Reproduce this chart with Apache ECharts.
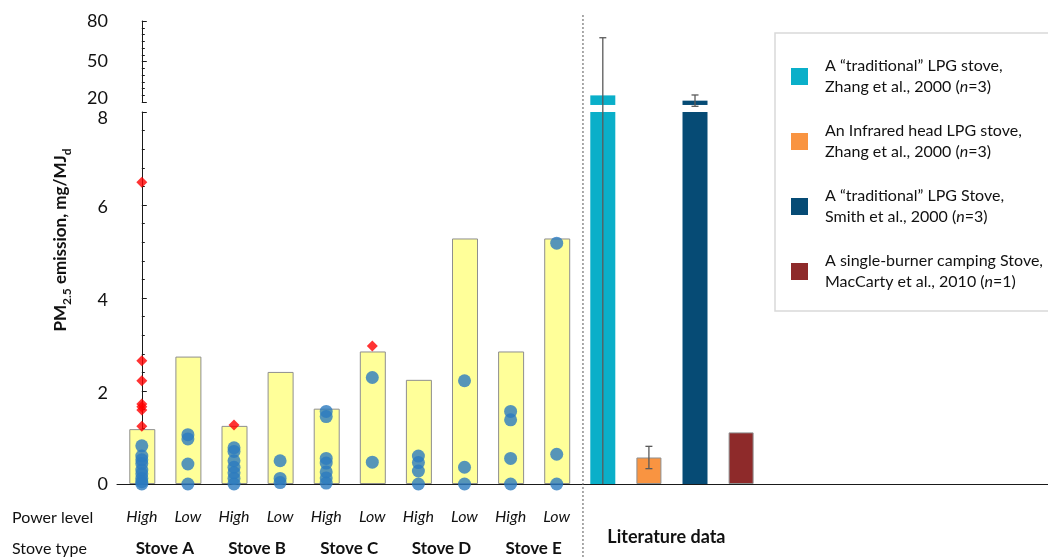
<!DOCTYPE html>
<html>
<head>
<meta charset="utf-8">
<script src="https://cdn.jsdelivr.net/npm/echarts@6/dist/echarts.min.js"></script>
<style>
  html, body { margin: 0; padding: 0; background: #ffffff; }
  #chart { width: 1048px; height: 557px; }
</style>
</head>
<body>
<div id="chart"></div>
<script>
// ---- data -------------------------------------------------------------
const powerLevels = ['High', 'Low', 'High', 'Low', 'High', 'Low', 'High', 'Low', 'High', 'Low'];
const stoveTypes = ['Stove A', 'Stove B', 'Stove C', 'Stove D', 'Stove E'];

// mean PM2.5 emission per stove / power level (mg/MJd)
const meanEmission = [1.18, 2.74, 1.25, 2.41, 1.62, 2.85, 2.24, 5.28, 2.85, 5.28];

// individual test results
const blueTests = [
  [0.82, 0.60, 0.52, 0.44, 0.30, 0.22, 0.12, 0.05, 0],
  [1.06, 0.97, 0.43, 0],
  [0.78, 0.70, 0.50, 0.36, 0.24, 0.12, 0],
  [0.50, 0.12, 0.03],
  [1.56, 1.45, 0.55, 0.45, 0.26, 0.13, 0.02],
  [2.29, 0.47],
  [0.60, 0.46, 0.28, 0],
  [2.22, 0.36, 0],
  [1.56, 1.38, 0.55, 0],
  [5.18, 0.64, 0]
];
// tests flagged as outliers
const redTests = [
  [6.49, 2.65, 2.22, 1.72, 1.66, 1.59, 1.24],
  [],
  [1.27],
  [],
  [],
  [2.97],
  [], [], [], []
];

// literature values
const litNames = [
  'A “traditional” LPG stove,\nZhang et al., 2000 (n=3)',
  'An Infrared head LPG stove,\nZhang et al., 2000 (n=3)',
  'A “traditional” LPG Stove,\nSmith et al., 2000 (n=3)',
  'A single-burner camping Stove,\nMacCarty et al., 2010 (n=1)'
];
const litValues = [24.9, 0.57, 21.0, 1.11];
const litErrors = [42.7, 0.24, 4.2, 0];
const litColors = ['#0AAFC9', '#F99441', '#064B75', '#8E2A2A'];

const lowerTicks = { min: 0, max: 8, interval: 2 };
const upperTicks = { min: 20, max: 80, interval: 30 };

// ---- layout helpers ---------------------------------------------------
const FONT = 'Lato, "Open Sans", sans-serif';
const X_MIN = -0.538, X_MAX = 19.657;   // category slots across the plot width
const LIT_START = powerLevels.length;   // first literature slot
const BREAK_LOW = 8.15;                 // lower panel: broken bars stop here
const BREAK_HIGH = 17.8;                // upper panel: broken bars resume here
const BAR_W = 26;
const AXIS_COLOR = '#1a1a1a';
const ERR_COLOR = '#5a5a5a';

const chart = echarts.init(document.getElementById('chart'), null, { renderer: 'canvas' });

const stoveBars = meanEmission.map((v, i) => [i, v]);
const blueData = [];
blueTests.forEach((arr, i) => arr.forEach(v => blueData.push([i, v])));
const redData = [];
redTests.forEach((arr, i) => arr.forEach(v => redData.push([i, v])));

const errData = litValues
  .map((v, k) => [LIT_START + k, v, litErrors[k], k])
  .filter(d => d[2] > 0);

function errLine(api, x, y1, y2, capTop, capBottom) {
  const a = api.coord([x, y1]);
  const b = api.coord([x, y2]);
  const style = { stroke: ERR_COLOR, lineWidth: 1.3 };
  const els = [{ type: 'line', shape: { x1: a[0], y1: a[1], x2: b[0], y2: b[1] }, style }];
  if (capBottom) els.push({ type: 'line', shape: { x1: a[0] - 3.5, y1: a[1], x2: a[0] + 3.5, y2: a[1] }, style });
  if (capTop) els.push({ type: 'line', shape: { x1: b[0] - 3.5, y1: b[1], x2: b[0] + 3.5, y2: b[1] }, style });
  return els;
}

function legendText(name) {
  return name.split('\n').map(line => {
    const m = line.match(/^(.*\()n(=\d+\))$/);
    return m ? `{t|${m[1]}}{i|n}{t|${m[2]}}` : `{t|${line}}`;
  }).join('\n');
}

// tick labels nudged vertically the way the printed axis sets them
function tickLabel(v) {
  if (v === upperTicks.min) return `{up|${v}}`;
  if (v === lowerTicks.max) return `{down2|${v}}`;
  if (v > lowerTicks.min && v < lowerTicks.max) return `{down|${v}}`;
  return `{n|${v}}`;
}

const series = [
  {
    type: 'bar', name: 'stove mean', xAxisIndex: 0, yAxisIndex: 0,
    data: stoveBars, barWidth: BAR_W, barGap: '-100%',
    itemStyle: { color: '#FFFF99', borderColor: '#8f8f8f', borderWidth: 1 },
    z: 2
  },
  ...litNames.map((name, k) => ({
    type: 'bar', name, xAxisIndex: 0, yAxisIndex: 0,
    data: [[LIT_START + k, litValues[k]]], barWidth: BAR_W - 1, barGap: '-100%',
    itemStyle: {
      color: litColors[k],
      borderColor: (k === 1 || k === 3) ? '#8f8f8f' : litColors[k],
      borderWidth: (k === 1 || k === 3) ? 1 : 0
    },
    z: 2
  })),
  {
    // tops of the bars that run past the axis break
    type: 'custom', xAxisIndex: 1, yAxisIndex: 1, clip: false, z: 3,
    data: litValues.map((v, k) => [LIT_START + k, v, k]).filter(d => d[1] > upperTicks.min),
    renderItem(params, api) {
      const x = api.value(0), v = api.value(1), k = api.value(2);
      const top = api.coord([x, v]);
      const bot = api.coord([x, BREAK_HIGH]);
      return {
        type: 'rect',
        shape: { x: top[0] - (BAR_W - 1) / 2, y: top[1], width: BAR_W - 1, height: bot[1] - top[1] },
        style: { fill: litColors[k] }
      };
    }
  },
  {
    // error bars, lower panel part
    type: 'custom', xAxisIndex: 0, yAxisIndex: 0, clip: false, z: 4,
    data: errData,
    renderItem(params, api) {
      const x = api.value(0), v = api.value(1), e = api.value(2);
      const lo = Math.max(0, v - e), hi = v + e;
      if (lo >= lowerTicks.max) return null;
      return { type: 'group', children: errLine(api, x, lo, Math.min(hi, BREAK_LOW), hi <= lowerTicks.max, lo > 0) };
    }
  },
  {
    // error bars, upper panel part
    type: 'custom', xAxisIndex: 1, yAxisIndex: 1, clip: false, z: 4,
    data: errData,
    renderItem(params, api) {
      const x = api.value(0), v = api.value(1), e = api.value(2);
      const lo = Math.max(0, v - e), hi = v + e;
      if (hi <= lowerTicks.max) return null;
      if (lo >= lowerTicks.max) return { type: 'group', children: errLine(api, x, lo, hi, true, true) };
      return { type: 'group', children: errLine(api, x, BREAK_HIGH, hi, true, false) };
    }
  },
  {
    type: 'scatter', name: 'tests', xAxisIndex: 0, yAxisIndex: 0,
    data: blueData, symbol: 'circle', symbolSize: 13, clip: false,
    itemStyle: { color: '#2C7BBF' }, z: 5
  },
  {
    type: 'scatter', name: 'outliers', xAxisIndex: 0, yAxisIndex: 0,
    data: redData, symbol: 'diamond', symbolSize: 11, clip: false,
    itemStyle: { color: '#FF0000' }, z: 6
  }
];

const labelRich = {
  n: { fontSize: 18, color: '#111', fontFamily: FONT },
  up: { fontSize: 18, color: '#111', fontFamily: FONT, padding: [0, 0, 8, 0] },
  down: { fontSize: 18, color: '#111', fontFamily: FONT, padding: [5, 0, 0, 0] },
  down2: { fontSize: 18, color: '#111', fontFamily: FONT, padding: [12, 0, 0, 0] }
};

const yAxisCommon = {
  type: 'value',
  axisLine: { show: true, lineStyle: { color: AXIS_COLOR, width: 1 } },
  axisTick: { show: true, inside: true, length: 5, lineStyle: { color: AXIS_COLOR } },
  minorTick: { show: true, length: 3, lineStyle: { color: AXIS_COLOR } },
  splitLine: { show: false },
  axisLabel: { margin: 9, formatter: tickLabel, rich: labelRich }
};

const xAxisCommon = { type: 'value', min: X_MIN, max: X_MAX, splitLine: { show: false } };

const option = {
  animation: false,
  backgroundColor: '#ffffff',
  grid: [
    { left: 117, right: 0, top: 112, height: 372 },   // lower panel 0–8
    { left: 117, right: 0, top: 21, height: 81 },     // upper panel 20–80
    { left: 117, right: 0, top: 0, height: 484 }      // stove-type labels
  ],
  xAxis: [
    {
      ...xAxisCommon, gridIndex: 0,
      axisLine: { show: true, onZero: false, lineStyle: { color: AXIS_COLOR, width: 1 } },
      axisTick: { show: false },
      axisLabel: {
        customValues: powerLevels.map((_, i) => i),
        formatter: v => powerLevels[Math.round(v)] || '',
        margin: 25, fontSize: 16, fontStyle: 'italic', color: '#111', fontFamily: FONT
      }
    },
    { ...xAxisCommon, gridIndex: 1, show: false },
    {
      ...xAxisCommon, gridIndex: 2,
      axisLine: { show: false }, axisTick: { show: false },
      axisLabel: {
        customValues: stoveTypes.map((_, j) => 2 * j + 0.5),
        formatter: v => stoveTypes[Math.floor(v / 2)] || '',
        margin: 57, fontSize: 17, fontWeight: 'bold', color: '#111', fontFamily: FONT
      }
    }
  ],
  yAxis: [
    { ...yAxisCommon, gridIndex: 0, ...lowerTicks, minorTick: { ...yAxisCommon.minorTick, splitNumber: 5 } },
    { ...yAxisCommon, gridIndex: 1, ...upperTicks, minorTick: { ...yAxisCommon.minorTick, splitNumber: 6 } },
    { type: 'value', gridIndex: 2, show: false, min: 0, max: 1 }
  ],
  legend: {
    data: litNames,
    orient: 'vertical',
    left: 775, top: 33,
    padding: [25, 40, 21, 16],
    itemWidth: 17, itemHeight: 17, itemGap: 28,
    icon: 'rect',
    borderColor: '#d9d9d9', borderWidth: 1.5,
    selectedMode: false,
    itemStyle: { borderWidth: 0 },
    formatter: legendText,
    textStyle: {
      padding: [0, 0, 0, 12],
      rich: {
        t: { fontSize: 16, lineHeight: 21, color: '#111', fontFamily: FONT },
        i: { fontSize: 16, lineHeight: 21, color: '#111', fontStyle: 'italic', fontFamily: FONT }
      }
    }
  },
  series
};

chart.setOption(option);

// divider between measurements and literature, plus captions
const divX = chart.convertToPixel({ xAxisIndex: 0 }, LIT_START - 0.43);
const litX = chart.convertToPixel({ xAxisIndex: 0 }, LIT_START + 1.38);
chart.setOption({
  graphic: [
    {
      type: 'line', silent: true, z: 1,
      shape: { x1: divX, y1: 15, x2: divX, y2: 557 },
      style: { stroke: '#555', lineWidth: 1, lineDash: [2, 2] }
    },
    {
      type: 'text', x: 61, y: 240, rotation: Math.PI / 2,
      style: {
        text: '{b|PM}{s|2.5}{b| emission, mg/MJ}{s|d}',
        align: 'center', verticalAlign: 'middle',
        rich: {
          b: { fontSize: 17, fontWeight: 'bold', lineHeight: 24, verticalAlign: 'middle', fill: '#111', fontFamily: FONT },
          s: { fontSize: 12, fontWeight: 'bold', lineHeight: 13, verticalAlign: 'bottom', fill: '#111', fontFamily: FONT }
        }
      }
    },
    {
      type: 'text', x: 12, y: 518,
      style: { text: 'Power level', fontSize: 16, fill: '#111', fontFamily: FONT, verticalAlign: 'middle' }
    },
    {
      type: 'text', x: 12, y: 549,
      style: { text: 'Stove type', fontSize: 16, fill: '#111', fontFamily: FONT, verticalAlign: 'middle' }
    },
    {
      type: 'text', x: litX, y: 537,
      style: { text: 'Literature data', fontSize: 18, fontWeight: 'bold', fill: '#111', fontFamily: FONT, align: 'center', verticalAlign: 'middle' }
    }
  ]
});
</script>
</body>
</html>
